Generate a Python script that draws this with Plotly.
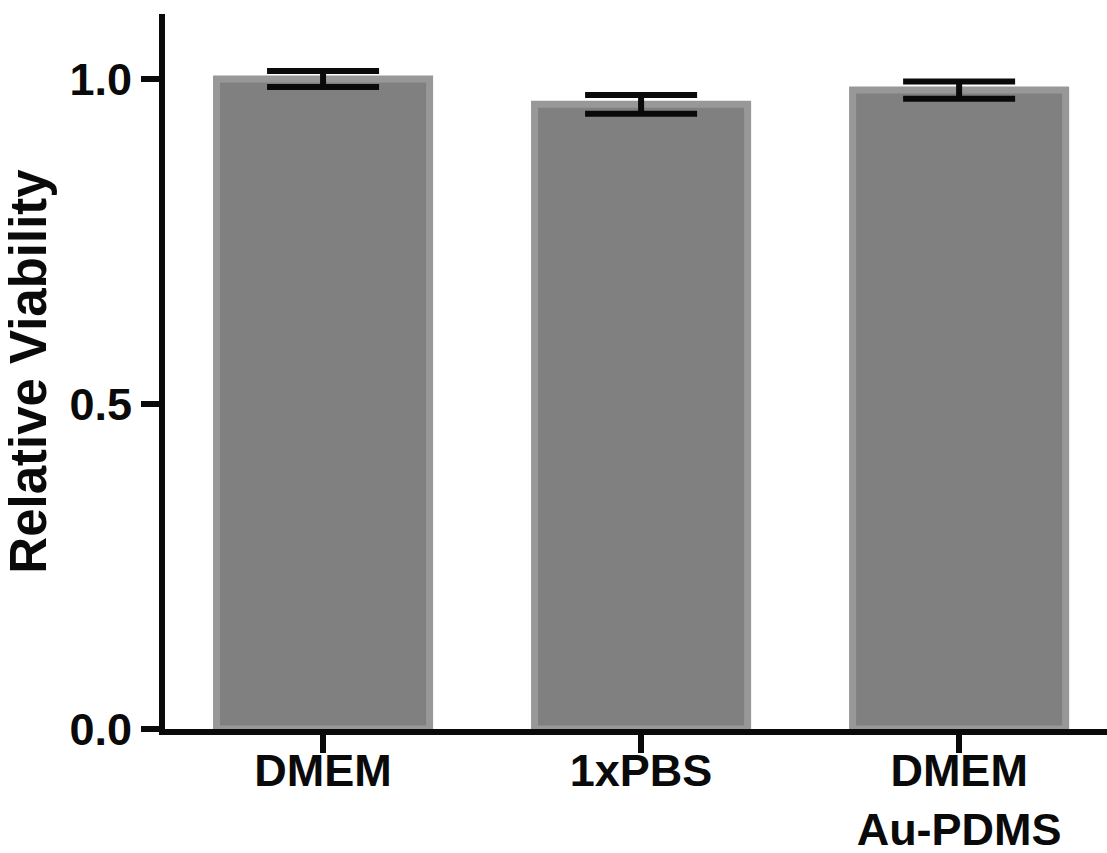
import plotly.graph_objects as go

categories = ["DMEM", "1xPBS", "DMEM<br>Au-PDMS"]
values = [1.000, 0.961, 0.983]
errors = [0.0123, 0.0143, 0.0133]
y_ticks = [0.0, 0.5, 1.0]

fig = go.Figure()
fig.add_trace(go.Bar(
    x=categories, y=values,
    width=0.67,
    marker=dict(color="#808080", line=dict(color="#989898", width=7)),
    error_y=dict(type="data", array=errors, visible=True,
                 color="#0a0a0a", thickness=6, width=56),
))

font_family = "Liberation Sans, Arial, sans-serif"
fig.update_layout(
    width=1107, height=853,
    margin=dict(l=165, r=0, t=14, b=124),
    plot_bgcolor="white", paper_bgcolor="white",
    showlegend=False,
    font=dict(family=font_family, size=45, color="#0a0a0a", weight="bold"),
)
fig.update_xaxes(
    range=[-0.497, 2.465], automargin=False,
    showline=True, linecolor="#0a0a0a", linewidth=6,
    ticks="outside", ticklen=18, tickwidth=6, tickcolor="#0a0a0a",
    ticklabelstandoff=-21,
    tickfont=dict(family=font_family, size=45, color="#0a0a0a", weight="bold"),
    showgrid=False, zeroline=False,
)
fig.update_yaxes(
    range=[0, 1.1], automargin=False,
    tickvals=y_ticks, tickformat=".1f",
    showline=True, linecolor="#0a0a0a", linewidth=6,
    ticks="outside", ticklen=18, tickwidth=6, tickcolor="#0a0a0a",
    tickfont=dict(family=font_family, size=45, color="#0a0a0a", weight="bold"),
    title=dict(text="Relative Viability", standoff=15,
               font=dict(family=font_family, size=51, color="#0a0a0a", weight="bold")),
    showgrid=False, zeroline=False,
)

fig.write_html(
    "out.html",
    config={"displayModeBar": False},
    post_script="document.body.style.margin='0';document.body.style.overflow='hidden';",
)
